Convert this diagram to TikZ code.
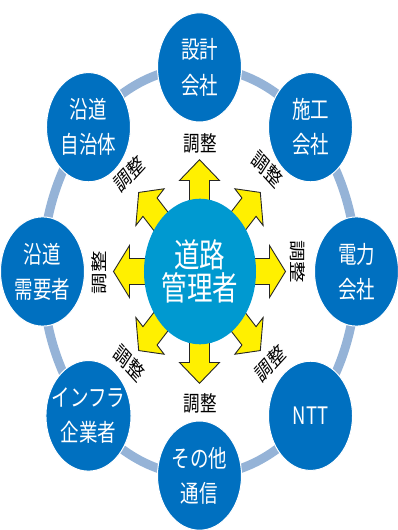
\documentclass[tikz,border=0pt]{standalone}
\usepackage{fontspec}
\setmainfont{Noto Sans CJK JP}
\definecolor{nodeblue}{RGB}{0,112,192}
\definecolor{centerblue}{RGB}{0,153,208}
\definecolor{ringblue}{RGB}{149,179,215}
\definecolor{arrowyellow}{RGB}{255,240,0}
\tikzset{
  org/.style={circle, fill=nodeblue, draw=white, line width=1pt, minimum size=84pt,
    inner sep=0pt, text=white, font=\fontsize{18.5}{27}\selectfont, align=center, transform shape},
  hub/.style={circle, fill=centerblue, minimum size=112pt, inner sep=0pt, text=white,
    font=\fontsize{25.5}{25}\selectfont, align=center, transform shape},
  ringline/.style={draw=ringblue, line width=9pt},
  arr/.style={fill=arrowyellow, draw=black!85, line width=0.9pt, line join=miter},
  lbl/.style={font=\fontsize{16.5}{18}\selectfont, text=black, inner sep=0pt, transform shape}
}
\newcommand\yarrow[1]{\draw[arr, rotate=#1] (86,0) -- (70,20) -- (70,10) -- (50,10) -- (50,-10) -- (70,-10) -- (70,-20) -- cycle;}
\begin{document}
\begin{tikzpicture}[x=1pt,y=1pt]
\useasboundingbox (-199.5,-258.5) rectangle (197.5,271.5);
\begin{scope}[yscale=1.3]
  \draw[ringline] (0,0) circle[radius=157];
  \node[org] (sekkei) at (90:157) {設計\\会社};
  \node[org] (seko) at (45:157) {施工\\会社};
  \node[org] (denryoku) at (0:157) {電力\\会社};
  \node[org] (ntt) at (-45:157) {NTT};
  \node[org] (sonota) at (-90:157) {その他\\通信};
  \node[org] (infra) at (-135:157) {インフラ\\企業者};
  \node[org] (juyo) at (180:157) {沿道\\需要者};
  \node[org] (jichi) at (135:157) {沿道\\自治体};
  \yarrow{90}
  \yarrow{45}
  \yarrow{0}
  \yarrow{-45}
  \yarrow{-90}
  \yarrow{-135}
  \yarrow{180}
  \yarrow{135}
  \node[hub] (road) at (0.5,0) {道路\\管理者};
  \node[lbl] (l1) at (0.5,98.8) {調整};
  \node[lbl] (l2) at (0.5,-101.2) {調整};
  \node[lbl, rotate=90] (l3) at (-100,-1) {調整};
  \node[lbl, rotate=-90] (l4) at (98,7.7) {調整};
  \node[lbl, rotate=40] (l5) at (-70,75) {調整};
  \node[lbl, rotate=-40] (l6) at (68,78.5) {調整};
  \node[lbl, rotate=-40] (l7) at (-70,-70.5) {調整};
  \node[lbl, rotate=40] (l8) at (71,-70.5) {調整};
\end{scope}
\end{tikzpicture}
\end{document}
